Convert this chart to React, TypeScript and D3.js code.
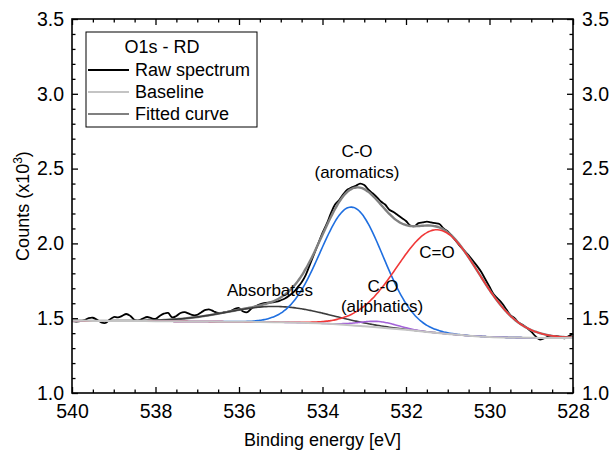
import React, { useEffect, useRef } from "react";
import * as d3 from "d3";

// raw O1s spectrum, 540.0 -> 528.0 eV in 0.1 eV steps (counts x10^3)
const rawCounts = [
  1.480, 1.478, 1.480, 1.488, 1.500, 1.503, 1.490, 1.472, 1.468, 1.490,
  1.508, 1.505, 1.515, 1.528, 1.515, 1.488, 1.485, 1.498, 1.508, 1.500,
  1.495, 1.515, 1.530, 1.535, 1.505, 1.515, 1.535, 1.540, 1.530, 1.520,
  1.522, 1.540, 1.555, 1.558, 1.545, 1.535, 1.536, 1.542, 1.548, 1.562,
  1.568, 1.545, 1.540, 1.565, 1.580, 1.592, 1.600, 1.604, 1.606, 1.610,
  1.620, 1.632, 1.650, 1.672, 1.705, 1.740, 1.790, 1.860, 1.930, 2.000,
  2.070, 2.130, 2.200, 2.260, 2.290, 2.330, 2.360, 2.375, 2.385, 2.400,
  2.390, 2.360, 2.335, 2.310, 2.280, 2.260, 2.225, 2.210, 2.190, 2.170,
  2.150, 2.120, 2.115, 2.135, 2.140, 2.145, 2.140, 2.135, 2.130, 2.100,
  2.080, 2.050, 2.015, 1.980, 1.950, 1.920, 1.885, 1.850, 1.810, 1.760,
  1.710, 1.660, 1.630, 1.600, 1.560, 1.520, 1.500, 1.470, 1.455, 1.435,
  1.410, 1.380, 1.358, 1.365, 1.375, 1.378, 1.382, 1.372, 1.366, 1.380,
  1.395,
];

// Shirley-type baseline, 540 -> 528 eV in 0.5 eV steps
const baselineCounts = [
  1.483, 1.482, 1.482, 1.481, 1.480, 1.479, 1.478, 1.477, 1.476, 1.475,
  1.473, 1.470, 1.465, 1.457, 1.446, 1.434, 1.422, 1.408, 1.395, 1.383,
  1.375, 1.371, 1.369, 1.368, 1.368,
];

// fitted gaussian components
const peakNames = ["Absorbates", "C-O aromatics", "C-O aliphatics", "C=O"];
const peakCenters = [535.1, 533.3, 532.65, 531.23];
const peakHeights = [0.105, 0.79, 0.04, 0.69];
const peakSigmas = [1.2, 0.75, 0.45, 0.98];
const peakColors = ["#3c3c3c", "#1f6fe0", "#a463d8", "#f03838"];

const xTicks = [540, 538, 536, 534, 532, 530, 528];
const yTicks = [1.0, 1.5, 2.0, 2.5, 3.0, 3.5];

const W = 613, H = 456;
const margin = { top: 19, right: 40, bottom: 63, left: 72 };
const FONT = "'Liberation Sans', Arial, sans-serif";

export default function App() {
  const ref = useRef<SVGSVGElement>(null);

  useEffect(() => {
    const svg = d3.select(ref.current);
    svg.selectAll("*").remove();

    const x = d3.scaleLinear().domain([540, 528]).range([margin.left, W - margin.right]);
    const y = d3.scaleLinear().domain([1, 3.5]).range([H - margin.bottom, margin.top]);

    const rawE = rawCounts.map((_, i) => 540 - i * 0.1);
    const baseE = baselineCounts.map((_, i) => 540 - i * 0.5);
    const baseAt = d3.scaleLinear().domain(baseE).range(baselineCounts);
    const grid = d3.range(0, 241).map((i) => 540 - i * 0.05);

    const comp = (k: number, e: number) =>
      peakHeights[k] * Math.exp(-((e - peakCenters[k]) ** 2) / (2 * peakSigmas[k] ** 2));

    const line = d3
      .line<[number, number]>()
      .x((d) => x(d[0]))
      .y((d) => y(d[1]))
      .curve(d3.curveCatmullRom);

    const g = svg.append("g");

    // raw spectrum
    g.append("path")
      .attr("d", line(rawE.map((e, i) => [e, rawCounts[i]])))
      .attr("fill", "none")
      .attr("stroke", "#000")
      .attr("stroke-width", 1.8);

    // fitted curve
    g.append("path")
      .attr("d", line(grid.map((e) => [e, baseAt(e) + peakNames.reduce((s, _, k) => s + comp(k, e), 0)])))
      .attr("fill", "none")
      .attr("stroke", "#808080")
      .attr("stroke-width", 2.4);

    // components
    peakNames.forEach((_, k) => {
      g.append("path")
        .attr("d", line(grid.map((e) => [e, baseAt(e) + comp(k, e)])))
        .attr("fill", "none")
        .attr("stroke", peakColors[k])
        .attr("stroke-width", 1.6);
    });

    // baseline
    g.append("path")
      .attr("d", line(baseE.map((e, i) => [e, baselineCounts[i]])))
      .attr("fill", "none")
      .attr("stroke", "#c4c4c4")
      .attr("stroke-width", 2);

    // axes
    const minorX = d3.range(540, 527.9, -0.5).filter((v) => !xTicks.includes(v));
    const minorY = d3.range(10, 36).map((v) => v / 10).filter((v) => Math.round(v * 10) % 5 !== 0);

    const styleAxis = (sel: any) => {
      sel.select(".domain").remove();
      sel.selectAll("line").attr("stroke", "#000").attr("stroke-width", 1.3);
      sel.selectAll("text").style("font-family", FONT).style("font-size", "19.5px").attr("fill", "#000");
    };

    const bottom = H - margin.bottom, top = margin.top, left = margin.left, right = W - margin.right;

    svg.append("g").attr("transform", `translate(0,${bottom})`)
      .call(d3.axisBottom(x).tickValues(xTicks).tickSizeInner(-6).tickSizeOuter(0).tickPadding(11).tickFormat(d3.format("d")))
      .call(styleAxis);
    svg.append("g").attr("transform", `translate(0,${bottom})`)
      .call(d3.axisBottom(x).tickValues(minorX).tickSizeInner(-3.5).tickSizeOuter(0).tickFormat(() => ""))
      .call(styleAxis);
    svg.append("g").attr("transform", `translate(0,${top})`)
      .call(d3.axisTop(x).tickValues(xTicks).tickSizeInner(-6).tickSizeOuter(0).tickFormat(() => ""))
      .call(styleAxis);
    svg.append("g").attr("transform", `translate(0,${top})`)
      .call(d3.axisTop(x).tickValues(minorX).tickSizeInner(-3.5).tickSizeOuter(0).tickFormat(() => ""))
      .call(styleAxis);
    svg.append("g").attr("transform", `translate(${left},0)`)
      .call(d3.axisLeft(y).tickValues(yTicks).tickSizeInner(-6).tickSizeOuter(0).tickPadding(8).tickFormat(d3.format(".1f")))
      .call(styleAxis);
    svg.append("g").attr("transform", `translate(${left},0)`)
      .call(d3.axisLeft(y).tickValues(minorY).tickSizeInner(-3.5).tickSizeOuter(0).tickFormat(() => ""))
      .call(styleAxis);
    svg.append("g").attr("transform", `translate(${right},0)`)
      .call(d3.axisRight(y).tickValues(yTicks).tickSizeInner(-6).tickSizeOuter(0).tickPadding(9).tickFormat(d3.format(".1f")))
      .call(styleAxis);
    svg.append("g").attr("transform", `translate(${right},0)`)
      .call(d3.axisRight(y).tickValues(minorY).tickSizeInner(-3.5).tickSizeOuter(0).tickFormat(() => ""))
      .call(styleAxis);

    // frame
    svg.append("rect")
      .attr("x", left).attr("y", top)
      .attr("width", right - left).attr("height", bottom - top)
      .attr("fill", "none").attr("stroke", "#000").attr("stroke-width", 1.6);

    // axis titles
    svg.append("text")
      .attr("x", (left + right) / 2).attr("y", 446)
      .attr("text-anchor", "middle")
      .style("font-family", FONT).style("font-size", "18px")
      .text("Binding energy [eV]");

    const yt = svg.append("text")
      .attr("transform", `translate(29,${(top + bottom) / 2}) rotate(-90)`)
      .attr("text-anchor", "middle")
      .style("font-family", FONT).style("font-size", "18px");
    yt.append("tspan").text("Counts (x10");
    yt.append("tspan").attr("dy", -7).style("font-size", "12px").text("3");
    yt.append("tspan").attr("dy", 7).text(")");

    // annotations
    const note = (tx: number, ty: number, s: string) =>
      svg.append("text").attr("x", tx).attr("y", ty).attr("text-anchor", "middle")
        .style("font-family", FONT).style("font-size", "17px").text(s);
    note(357, 157, "C-O");
    note(357, 178, "(aromatics)");
    note(437, 258, "C=O");
    note(383, 292, "C-O");
    note(382, 312, "(aliphatics)");
    note(270, 296, "Absorbates");

    // legend
    const lg = svg.append("g");
    lg.append("rect").attr("x", 86).attr("y", 32).attr("width", 171).attr("height", 95)
      .attr("fill", "#fff").attr("stroke", "#000").attr("stroke-width", 1);
    lg.append("text").attr("x", 162).attr("y", 53).attr("text-anchor", "middle")
      .style("font-family", FONT).style("font-size", "18px").text("O1s - RD");
    const items: [string, string][] = [["Raw spectrum", "#000"], ["Baseline", "#c4c4c4"], ["Fitted curve", "#808080"]];
    items.forEach(([label, color], i) => {
      const ly = 70 + i * 22;
      lg.append("line").attr("x1", 88).attr("x2", 129).attr("y1", ly).attr("y2", ly)
        .attr("stroke", color).attr("stroke-width", 1.8);
      lg.append("text").attr("x", 135).attr("y", ly + 6)
        .style("font-family", FONT).style("font-size", "18px").text(label);
    });
  }, []);

  return (
    <svg ref={ref} width={W} height={H} style={{ position: "absolute", left: 0, top: 0, background: "#fff" }} />
  );
}
